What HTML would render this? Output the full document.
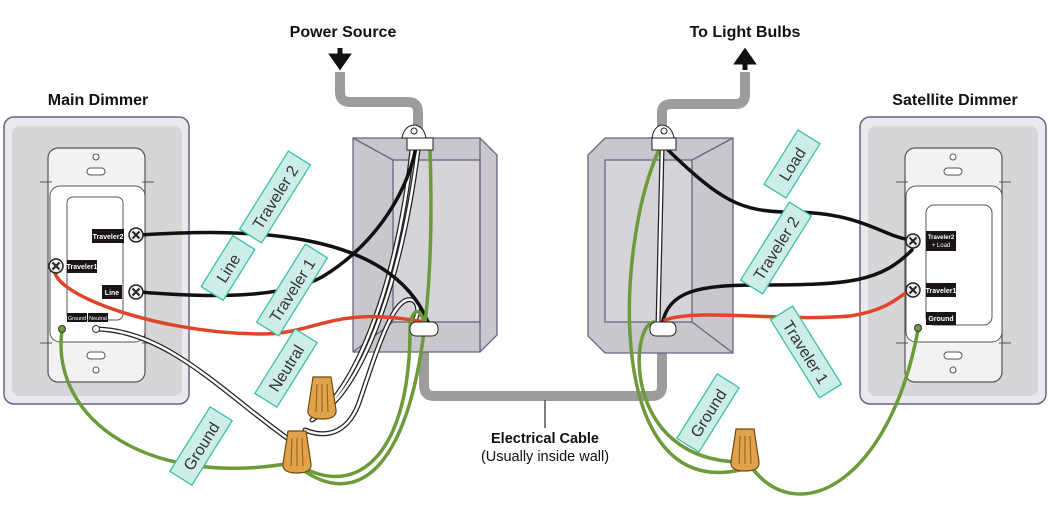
<!DOCTYPE html>
<html><head><meta charset="utf-8"><style>
html,body{margin:0;padding:0;background:#fff;width:1062px;height:516px;overflow:hidden}
svg{display:block;font-family:"Liberation Sans",sans-serif}
</style></head><body>
<svg width="1062" height="516" viewBox="0 0 1062 516" xmlns="http://www.w3.org/2000/svg">
<defs>
<g id="lbl"><rect x="-46" y="-13" width="92" height="26" fill="#cdeee8" stroke="#3bbfa5" stroke-width="1.3"/></g>
<g id="screw"><circle r="7" fill="#eee" stroke="#222" stroke-width="1.5"/><path d="M-3.5,-3.5L3.5,3.5M3.5,-3.5L-3.5,3.5" stroke="#222" stroke-width="2"/></g>
<g id="nut"><path d="M-9,-21 L9,-21 L14,12 Q15,21 0,21 Q-15,21 -14,12 Z" fill="#e0a24a" stroke="#6b4a10" stroke-width="1.2"/><path d="M-5,-14 L-6,14 M0,-14 L0,14 M5,-14 L6,14" stroke="#8a5c1a" stroke-width="1"/></g>
</defs>

<g font-size="16" fill="#111" text-anchor="middle" font-weight="bold">
<text x="343" y="37">Power Source</text>
<text x="745" y="37">To Light Bulbs</text>
<text x="98" y="105">Main Dimmer</text>
<text x="955" y="105">Satellite Dimmer</text>
<text x="545" y="443" font-size="14.5">Electrical Cable</text>
<text x="545" y="461" font-size="14.5" font-weight="normal">(Usually inside wall)</text>
</g>
<path d="M340,48 L340,58 M333,56 L340,66 L347,56 Z" stroke="#111" stroke-width="5" fill="#111"/>
<path d="M745,70 L745,60 M738,62 L745,52 L752,62 Z" stroke="#111" stroke-width="5" fill="#111"/>

<g fill="none" stroke="#9c9c9c" stroke-width="10">
<path d="M340,72 L340,92 Q340,102 350,102 L408,102 Q418,102 418,112 L418,130"/>
<path d="M424,335 L424,385 Q424,396 434,396 L652,396 Q662,396 662,386 L662,335"/>
<path d="M662,130 L662,112 Q662,104 672,104 L736,104 Q745,104 745,94 L745,72"/>
</g>
<path d="M545,400 L545,428" stroke="#555" stroke-width="1.5"/>

<rect x="4" y="117" width="185" height="287" rx="10" fill="#ebe9ee" stroke="#6b6380" stroke-width="1.5"/>
<rect x="12" y="126" width="170" height="270" rx="8" fill="#d6d6d8"/>
<rect x="48" y="148" width="97" height="234" rx="10" fill="#f2f2f2" stroke="#555" stroke-width="1.2"/>
<rect x="50" y="186" width="95" height="156" rx="10" fill="#fff" stroke="#555" stroke-width="1"/>
<rect x="67" y="197" width="56" height="123" rx="6" fill="#fff" stroke="#555" stroke-width="1"/>
<circle cx="96" cy="157" r="3" fill="#fff" stroke="#555"/><rect x="87" y="168" width="18" height="7" rx="3.5" fill="#fff" stroke="#555"/>
<rect x="87" y="352" width="18" height="7" rx="3.5" fill="#fff" stroke="#555"/><circle cx="96" cy="370" r="3" fill="#fff" stroke="#555"/>
<path d="M40,182H52M142,182H154M40,343H52M142,343H154" stroke="#555"/>
<rect x="92" y="229" width="32" height="14" fill="#1a1414"/><text x="108" y="239" font-size="7" fill="#fff" text-anchor="middle" font-weight="bold">Traveler2</text>
<rect x="67" y="260" width="30" height="13" fill="#1a1414"/><text x="82" y="269" font-size="7" fill="#fff" text-anchor="middle" font-weight="bold">Traveler1</text>
<rect x="102" y="285" width="20" height="14" fill="#1a1414"/><text x="112" y="295" font-size="7" fill="#fff" text-anchor="middle" font-weight="bold">Line</text>
<rect x="67" y="313" width="20" height="9" fill="#1a1414"/><text x="77" y="320" font-size="5.5" fill="#fff" text-anchor="middle">Ground</text>
<rect x="88" y="313" width="20" height="9" fill="#1a1414"/><text x="98" y="320" font-size="5.5" fill="#fff" text-anchor="middle">Neutral</text>

<rect x="860" y="117" width="186" height="287" rx="10" fill="#ebe9ee" stroke="#6b6380" stroke-width="1.5"/>
<rect x="868" y="126" width="170" height="270" rx="8" fill="#d6d6d8"/>
<rect x="905" y="148" width="97" height="234" rx="10" fill="#f2f2f2" stroke="#555" stroke-width="1.2"/>
<rect x="906" y="186" width="96" height="156" rx="10" fill="#fff" stroke="#555" stroke-width="1"/>
<rect x="926" y="205" width="66" height="120" rx="8" fill="#fff" stroke="#555" stroke-width="1"/>
<circle cx="953" cy="157" r="3" fill="#fff" stroke="#555"/><rect x="944" y="168" width="18" height="7" rx="3.5" fill="#fff" stroke="#555"/>
<rect x="944" y="352" width="18" height="7" rx="3.5" fill="#fff" stroke="#555"/><circle cx="953" cy="370" r="3" fill="#fff" stroke="#555"/>
<path d="M896,182H908M999,182H1011M896,343H908M999,343H1011" stroke="#555"/>
<rect x="926" y="231" width="30" height="20" fill="#1a1414"/><text x="941" y="239" font-size="6" fill="#fff" text-anchor="middle" font-weight="bold">Traveler2</text><text x="941" y="247" font-size="6" fill="#fff" text-anchor="middle">+ Load</text>
<rect x="926" y="283" width="30" height="14" fill="#1a1414"/><text x="941" y="293" font-size="7" fill="#fff" text-anchor="middle" font-weight="bold">Traveler1</text>
<rect x="926" y="312" width="30" height="13" fill="#1a1414"/><text x="941" y="321" font-size="7" fill="#fff" text-anchor="middle" font-weight="bold">Ground</text>

<g stroke="#6b6380" stroke-width="1.3">
<polygon points="353,138 480,138 497,155 497,335 480,352 353,352" fill="#c9c7cd"/>
<rect x="393" y="160" width="87" height="162" fill="#d6d4d8"/>
<path d="M353,138L393,160M353,352L393,322M480,138V352" fill="none"/>
</g>
<g stroke="#6b6380" stroke-width="1.3">
<polygon points="605,138 733,138 733,353 605,353 588,336 588,155" fill="#c9c7cd"/>
<rect x="605" y="160" width="87" height="162" fill="#d6d4d8"/>
<path d="M733,138L692,160M733,353L692,322" fill="none"/>
</g>

<g fill="none" stroke-linecap="round">
<g stroke="#222" stroke-width="5"><path d="M96,329 C170,330 230,400 297,445"/><path d="M312,420 C350,395 395,300 412,150"/><path d="M325,410 C360,385 400,290 418,150"/><path d="M305,430 C330,440 350,430 360,400 C380,340 395,295 412,300 C420,303 418,315 415,320"/></g>
<g stroke="#fff" stroke-width="2.5"><path d="M96,329 C170,330 230,400 297,445"/><path d="M312,420 C350,395 395,300 412,150"/><path d="M325,410 C360,385 400,290 418,150"/><path d="M305,430 C330,440 350,430 360,400 C380,340 395,295 412,300 C420,303 418,315 415,320"/></g>
<path d="M140,235 C250,228 390,230 428,322" stroke="#111" stroke-width="3.5"/>
<path d="M140,292 C200,297 280,300 322,277 C370,248 405,200 416,148" stroke="#111" stroke-width="3.5"/>
<path d="M56,266 C42,290 150,333 260,334 C320,334 330,305 424,322" stroke="#e0452a" stroke-width="3.5"/>
<g stroke="#6d9a3a" stroke-width="3.5">
<path d="M62,330 C50,420 150,490 297,462"/>
<path d="M300,468 C370,520 440,450 430,150"/>
<path d="M300,466 C360,500 410,450 410,330 C410,310 420,305 424,322"/>
</g>
</g>
<use href="#nut" x="322" y="398"/>
<use href="#nut" x="297" y="452"/>
<path d="M402,138 Q404,126 414,125 Q424,126 426,138Z" fill="#fff" stroke="#222"/><circle cx="414" cy="131" r="3" fill="#fff" stroke="#222"/>
<rect x="407" y="138" width="26" height="12" fill="#fff" stroke="#222"/>
<rect x="410" y="322" width="28" height="14" rx="6" fill="#fff" stroke="#222"/>
<use href="#screw" x="136" y="235"/><use href="#screw" x="136" y="292"/><use href="#screw" x="56" y="266"/>
<circle cx="62" cy="329" r="3.5" fill="#6d9a3a" stroke="#333"/><circle cx="96" cy="329" r="3.5" fill="#fff" stroke="#333"/>

<g fill="none" stroke-linecap="round">
<path d="M662,150 L658,325" stroke="#222" stroke-width="5"/><path d="M662,150 L658,325" stroke="#fff" stroke-width="2.5"/>
<path d="M668,150 C720,200 740,212 790,212 C860,212 880,235 910,240" stroke="#111" stroke-width="3.5"/>
<path d="M662,325 C668,290 700,285 760,285 C850,285 880,282 912,250" stroke="#111" stroke-width="3.5"/>
<path d="M665,320 C700,308 780,322 850,316 C890,310 900,295 913,288" stroke="#e0452a" stroke-width="3.5"/>
<g stroke="#6d9a3a" stroke-width="3.5">
<path d="M658,152 C615,250 605,500 740,470"/>
<path d="M655,322 C630,320 620,460 740,462"/>
<path d="M752,468 C800,530 890,480 918,330"/>
</g>
</g>
<use href="#nut" x="745" y="450"/>
<path d="M652,138 Q654,126 662,125 Q672,126 674,138Z" fill="#fff" stroke="#222"/><circle cx="664" cy="131" r="3" fill="#fff" stroke="#222"/>
<rect x="652" y="138" width="24" height="12" fill="#fff" stroke="#222"/>
<rect x="650" y="322" width="26" height="14" rx="6" fill="#fff" stroke="#222"/>
<use href="#screw" x="913" y="241"/><use href="#screw" x="913" y="290"/>
<circle cx="918" cy="328" r="3.5" fill="#6d9a3a" stroke="#333"/>

<g font-size="16" fill="#333" text-anchor="middle">
<g transform="translate(275,197) rotate(-58)"><use href="#lbl"/><text y="6">Traveler 2</text></g>
<g transform="translate(228,268) rotate(-58)"><rect x="-30" y="-13" width="60" height="26" fill="#cdeee8" stroke="#3bbfa5" stroke-width="1.3"/><text y="6">Line</text></g>
<g transform="translate(292,290) rotate(-58)"><use href="#lbl"/><text y="6">Traveler 1</text></g>
<g transform="translate(286,368) rotate(-58)"><rect x="-38" y="-13" width="76" height="26" fill="#cdeee8" stroke="#3bbfa5" stroke-width="1.3"/><text y="6">Neutral</text></g>
<g transform="translate(201,446) rotate(-58)"><rect x="-38" y="-13" width="76" height="26" fill="#cdeee8" stroke="#3bbfa5" stroke-width="1.3"/><text y="6">Ground</text></g>
<g transform="translate(792,164) rotate(-58)"><rect x="-32" y="-13" width="64" height="26" fill="#cdeee8" stroke="#3bbfa5" stroke-width="1.3"/><text y="6">Load</text></g>
<g transform="translate(776,248) rotate(-58)"><use href="#lbl"/><text y="6">Traveler 2</text></g>
<g transform="translate(806,352) rotate(58)"><use href="#lbl"/><text y="6">Traveler 1</text></g>
<g transform="translate(708,413) rotate(-58)"><rect x="-38" y="-13" width="76" height="26" fill="#cdeee8" stroke="#3bbfa5" stroke-width="1.3"/><text y="6">Ground</text></g>
</g>
</svg>
</body></html>
